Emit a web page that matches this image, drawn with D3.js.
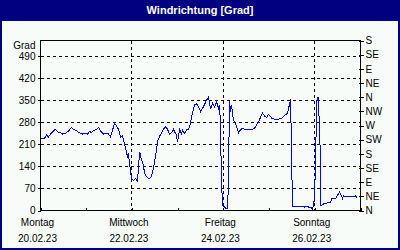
<!DOCTYPE html>
<html>
<head>
<meta charset="utf-8">
<script src="https://cdn.jsdelivr.net/npm/d3@7"></script>
<style>
  body { margin: 0; }
  svg { display: block; font-family: "Liberation Sans", Arial, sans-serif; }
</style>
</head>
<body>
<div id="chart"></div>
<script>
// Windrichtung, Mo 20.02.23 - So 26.02.23 (Stunden ab Montag 00:00)
const startDate = new Date(2023, 1, 20);
const hours = [
  0, 2.1, 3.2, 4.2, 5.3, 6.3, 7.9, 8.9, 10.5, 11.6, 13.1, 14.7, 16.3, 17.3, 18.9, 20.5,
  22.1, 23.6, 24.7, 25.7, 26.8, 27.8, 29.4, 30.5, 31.5, 33.1, 34.1, 35.7, 36.8, 37.8, 38.9, 40.4,
  41.5, 42.0, 43.1, 43.6, 44.6, 45.2, 45.7, 46.2, 46.7, 47.3, 47.8, 48.8, 49.9, 50.9, 51.5, 52.0,
  52.5, 53.0, 53.6, 54.1, 54.6, 55.1, 56.2, 57.2, 58.3, 59.3, 59.9, 60.9, 61.4, 62.5, 63.5, 64.6,
  65.6, 66.7, 67.7, 68.8, 69.8, 70.4, 71.4, 71.9, 72.5, 73.0, 74.0, 74.6, 75.6, 76.7, 77.7, 78.8,
  79.3, 79.8, 80.9, 81.9, 83.0, 84.0, 85.1, 86.1, 87.2, 88.2, 89.3, 90.3, 91.4, 92.4, 93.5, 94.0,
  94.5, 95.0, 95.6, 96.6, 97.7, 98.2, 98.7, 99.2, 99.8, 100.3, 100.8, 101.3, 102.4, 103.4, 104.0, 105.0,
  106.0, 107.6, 109.2, 110.8, 112.4, 113.4, 114.5, 115.5, 116.6, 117.6, 118.7, 119.7, 120.8, 121.8, 123.4, 126.0,
  127.0, 128.6, 129.7, 130.7, 131.3, 131.8, 132.3, 133.4, 134.4, 135.5, 136.5, 137.6, 138.6, 139.7, 140.7, 141.8,
  142.8, 143.3, 143.9, 144.4, 144.9, 145.2, 145.4, 145.7, 146.0, 146.3, 146.8, 147.0, 147.2, 148.0, 149.1, 150.2,
  151.2, 152.3, 152.8, 153.8, 154.9, 155.9, 157.0, 158.0, 158.6, 159.1, 160.1, 161.2, 162.2, 163.3, 164.3, 165.4,
  166.4
];
const degrees = [
  229, 229, 240, 234, 243, 250, 258, 250, 247, 243, 245, 252, 264, 258, 253, 247,
  243, 245, 242, 252, 247, 253, 258, 264, 252, 243, 245, 243, 234, 255, 277, 264,
  250, 232, 237, 222, 200, 183, 172, 179, 152, 124, 100, 96, 101, 93, 140, 186,
  176, 160, 154, 138, 122, 112, 104, 101, 109, 133, 154, 192, 218, 236, 245, 258,
  266, 258, 243, 247, 258, 250, 240, 218, 234, 258, 245, 256, 245, 256, 256, 277,
  298, 311, 335, 339, 330, 314, 325, 336, 351, 360, 322, 341, 328, 345, 325, 336,
  266, 96, 16, 11, 5, 5, 96, 349, 314, 335, 309, 288, 275, 258, 247, 256,
  261, 256, 258, 256, 261, 272, 281, 296, 309, 300, 296, 305, 298, 291, 290, 291,
  295, 304, 309, 337, 354, 178, 12, 13, 12, 13, 12, 14, 11, 14, 11, 11,
  5, 16, 42, 170, 300, 354, 359, 352, 360, 277, 200, 128, 16, 18, 23, 23,
  27, 27, 37, 39, 37, 48, 58, 48, 37, 48, 43, 44, 43, 45, 43, 46,
  39
];

const gradTicks = [0, 70, 140, 210, 280, 350, 420, 490];
const compassTicks = [0, 45, 90, 135, 180, 225, 270, 315, 360, 405, 450, 495, 540];
const compassLabels = ["N", "NE", "E", "SE", "S", "SW", "W", "NW", "N", "NE", "E", "SE", "S"];
const labelDays = [0, 2, 4, 6];
const dayNames = ["Montag", "Mittwoch", "Freitag", "Sonntag"];
const dayDates = ["20.02.23", "22.02.23", "24.02.23", "26.02.23"];

const data = hours.map((h, i) => ({
  date: new Date(startDate.getTime() + h * 3600e3),
  value: degrees[i]
}));

const W = 400, H = 250;
const plot = { left: 40.5, right: 360.5, top: 40.5, bottom: 210.5 };

const svg = d3.select("#chart").append("svg")
  .attr("width", W)
  .attr("height", H);

// Rahmen + Titelleiste
svg.append("rect").attr("width", W).attr("height", H).attr("fill", "#000080");
svg.append("rect")
  .attr("x", 2).attr("y", 21)
  .attr("width", W - 4).attr("height", H - 23)
  .attr("fill", "#f8fcf8");

svg.append("text")
  .attr("x", W / 2).attr("y", 14)
  .attr("text-anchor", "middle")
  .attr("fill", "#fff")
  .attr("font-weight", "bold")
  .attr("font-size", "11px")
  .text("Windrichtung [Grad]");

const x = d3.scaleTime()
  .domain([startDate, d3.timeDay.offset(startDate, 7)])
  .range([plot.left, plot.right]);

const y = d3.scaleLinear()
  .domain([0, 540])
  .range([plot.bottom, plot.top]);

const g = svg.append("g").attr("shape-rendering", "crispEdges");

// Gitterlinien
g.selectAll(".hgrid")
  .data(gradTicks.filter(d => d > 0))
  .join("line")
    .attr("x1", plot.left).attr("x2", plot.right)
    .attr("y1", d => y(d)).attr("y2", d => y(d))
    .attr("stroke", "#000")
    .attr("stroke-dasharray", "3,3");

g.selectAll(".vgrid")
  .data(labelDays.filter(d => d > 0))
  .join("line")
    .attr("x1", d => x(d3.timeDay.offset(startDate, d)))
    .attr("x2", d => x(d3.timeDay.offset(startDate, d)))
    .attr("y1", plot.top).attr("y2", plot.bottom)
    .attr("stroke", "#000")
    .attr("stroke-dasharray", "3,3");

// Achsen
const axisLeft = svg.append("g")
  .attr("transform", `translate(${plot.left},0)`)
  .call(d3.axisLeft(y).tickValues(gradTicks).tickSize(3).tickPadding(2));

const axisRight = svg.append("g")
  .attr("transform", `translate(${plot.right},0)`)
  .call(d3.axisRight(y).tickValues(compassTicks).tickSize(3).tickPadding(2)
    .tickFormat((d, i) => compassLabels[i]));
axisRight.selectAll(".tick line").attr("x1", -2);

const axisBottom = svg.append("g")
  .attr("transform", `translate(0,${plot.bottom})`)
  .call(d3.axisBottom(x).ticks(d3.timeDay.every(1)).tickSize(-3).tickFormat(""));

[axisLeft, axisRight, axisBottom].forEach(a => {
  a.select(".domain").remove();
  a.attr("shape-rendering", "crispEdges");
  a.selectAll("line").attr("stroke", "#000");
  a.selectAll("text")
    .attr("fill", "#000")
    .attr("font-size", "10px")
    .attr("font-family", "Liberation Sans, Arial, sans-serif");
});

svg.append("rect")
  .attr("x", plot.left).attr("y", plot.top)
  .attr("width", plot.right - plot.left)
  .attr("height", plot.bottom - plot.top)
  .attr("fill", "none")
  .attr("stroke", "#000")
  .attr("shape-rendering", "crispEdges");

svg.append("text")
  .attr("x", plot.left - 5).attr("y", 48.5)
  .attr("text-anchor", "end")
  .attr("font-size", "10px")
  .text("Grad");

// Tagesbeschriftung
const dayLabel = svg.append("g").attr("font-size", "10px").attr("text-anchor", "middle");
dayLabel.selectAll(".dname")
  .data(labelDays)
  .join("text")
    .attr("x", d => x(d3.timeDay.offset(startDate, d)) - 3)
    .attr("y", 226)
    .text((d, i) => dayNames[i]);
dayLabel.selectAll(".ddate")
  .data(labelDays)
  .join("text")
    .attr("x", d => x(d3.timeDay.offset(startDate, d)) - 3)
    .attr("y", 242)
    .text((d, i) => dayDates[i]);

// Messkurve
const line = d3.line()
  .x(d => x(d.date))
  .y(d => y(d.value));

svg.append("path")
  .datum(data)
  .attr("fill", "none")
  .attr("stroke", "#0000ff")
  .attr("stroke-width", 1)
  .attr("shape-rendering", "crispEdges")
  .attr("d", line);
</script>
</body>
</html>
